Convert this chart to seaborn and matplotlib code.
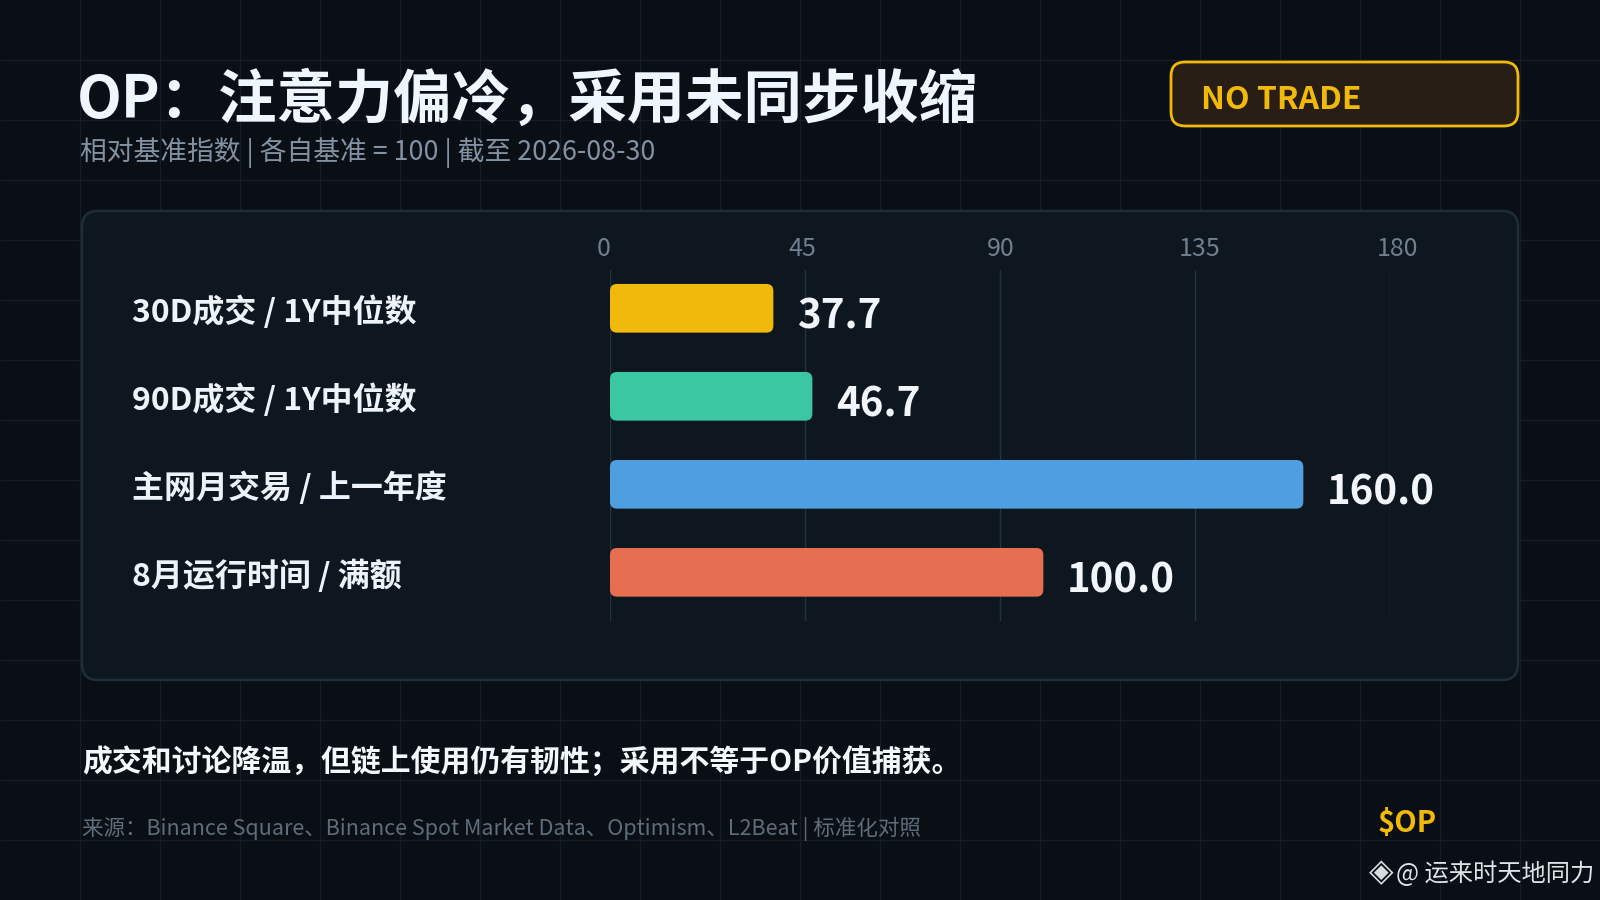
import matplotlib
matplotlib.use('Agg')
import matplotlib.pyplot as plt
import matplotlib.transforms as mtransforms
import seaborn as sns
import pandas as pd
from matplotlib.patches import FancyBboxPatch

# ---- data ----
categories = ["30D成交 / 1Y中位数", "90D成交 / 1Y中位数", "主网月交易 / 上一年度", "8月运行时间 / 满额"]
values = [37.7, 46.7, 160.0, 100.0]
bar_colors = ["#f0b90b", "#3cc7a3", "#4e9ee0", "#e76f51"]
x_ticks = [0, 45, 90, 135, 180]

title = "OP：注意力偏冷，采用未同步收缩"
subtitle = "相对基准指数 | 各自基准 = 100 | 截至 2026-08-30"
badge = "NO TRADE"
note = "成交和讨论降温，但链上使用仍有韧性；采用不等于OP价值捕获。"
source = "来源：Binance Square、Binance Spot Market Data、Optimism、L2Beat | 标准化对照"
ticker = "$OP"
watermark = "@ 运来时天地同力"

sns.set_theme(style="dark")
plt.rcParams['font.family'] = ['Noto Sans CJK SC', 'DejaVu Sans']

W, H = 1600, 900
fig = plt.figure(figsize=(16, 9), dpi=100)
fig.patch.set_facecolor('#0a0f16')

# background layer in pixel coordinates
bg = fig.add_axes([0, 0, 1, 1])
bg.set_xlim(0, W)
bg.set_ylim(H, 0)
bg.axis('off')
bg.vlines(range(80, W, 80), 0, H, color='#151e28', lw=1, zorder=1)
bg.hlines(range(60, H, 60), 0, W, color='#151e28', lw=1, zorder=1)

panel = FancyBboxPatch((82, 211), 1436, 469, boxstyle="round,pad=0,rounding_size=16",
                       fc='#0e1720', ec='#1f2d3a', lw=1.8, zorder=3)
bg.add_patch(panel)
badge_box = FancyBboxPatch((1171, 62), 347, 64, boxstyle="round,pad=0,rounding_size=14",
                           fc='#281e15', ec='#f0b90b', lw=2, zorder=3)
bg.add_patch(badge_box)

bg.text(77, 101, title, fontsize=42, fontweight='bold', color='#f0f6ff', va='center', zorder=4)
bg.text(80, 153, subtitle, fontsize=19.3, color='#8392a2', va='center', zorder=4)
bg.text(1201, 100, badge, fontsize=23, fontweight='bold', color='#f0b90b', va='center', zorder=4)
bg.text(82, 761, note, fontsize=21.5, fontweight='bold', color='#f4f7fb', va='center', zorder=4)
bg.text(82, 829, source, fontsize=15.5, color='#5f6c79', va='center', zorder=4)
bg.text(1437, 823, ticker, ha='right', fontsize=21, fontweight='bold', color='#f0b90b', va='center', zorder=4)
bg.text(1381, 873, '◈', ha='center', fontsize=23, color='#d6dbe0', va='center', family='DejaVu Sans', zorder=4)
bg.text(1594, 874, watermark, ha='right', fontsize=17.5, color='#dfe3e8', va='center', zorder=4)

# chart axes
ax = fig.add_axes([610 / W, 1 - 621 / H, 780 / W, 351 / H])
ax.patch.set_alpha(0)
df = pd.DataFrame({'cat': categories, 'val': values})
sns.barplot(data=df, x='val', y='cat', hue='cat', order=categories, hue_order=categories,
            palette=bar_colors, width=0.553, saturation=1, legend=False, ax=ax)

ax.set_xlim(0, 180)
ax.set_ylim(3.553, -0.435)

rx = 7 / (780 / 180)
ry = 7 / (351 / 3.988)
for p in list(ax.patches):
    x0, y0, w, h = p.get_x(), p.get_y(), p.get_width(), p.get_height()
    fc = p.get_facecolor()
    p.remove()
    ax.add_patch(FancyBboxPatch((x0, y0), w, h, boxstyle=f"round,pad=0,rounding_size={rx}",
                                mutation_aspect=ry / rx, fc=fc, ec='none', zorder=2))

for i, v in enumerate(values):
    ax.text(v + 5.4, i + 0.1, f"{v:.1f}", va='center', ha='left', fontsize=29,
            fontweight='bold', color='#f2f6fb')

# category labels, left aligned
blend = mtransforms.blended_transform_factory(ax.transAxes, ax.transData)
for i, c in enumerate(categories):
    ax.text(-478 / 780, i + 0.045, c, transform=blend, ha='left', va='center',
            fontsize=23, fontweight='bold', color='#eef3fa')
ax.set_yticks(range(len(categories)))
ax.set_yticklabels([])
ax.tick_params(axis='y', length=0)

ax.set_xticks(x_ticks)
ax.xaxis.tick_top()
ax.tick_params(axis='x', length=0, pad=6, labelsize=18, labelcolor='#6f7f8e')
ax.grid(axis='x', color='#243140', lw=1)
ax.grid(axis='y', visible=False)
ax.set_axisbelow(True)
for s in ax.spines.values():
    s.set_visible(False)
ax.set_xlabel('')
ax.set_ylabel('')

# the reference spreads its tick labels slightly wider than the grid
for k, lab in enumerate(ax.get_xticklabels()):
    off_px = -6 + 3.5 * k
    lab.set_transform(lab.get_transform() +
                      mtransforms.ScaledTranslation(off_px / 100, 0, fig.dpi_scale_trans))

fig.savefig('out.png', dpi=100, facecolor=fig.get_facecolor())
